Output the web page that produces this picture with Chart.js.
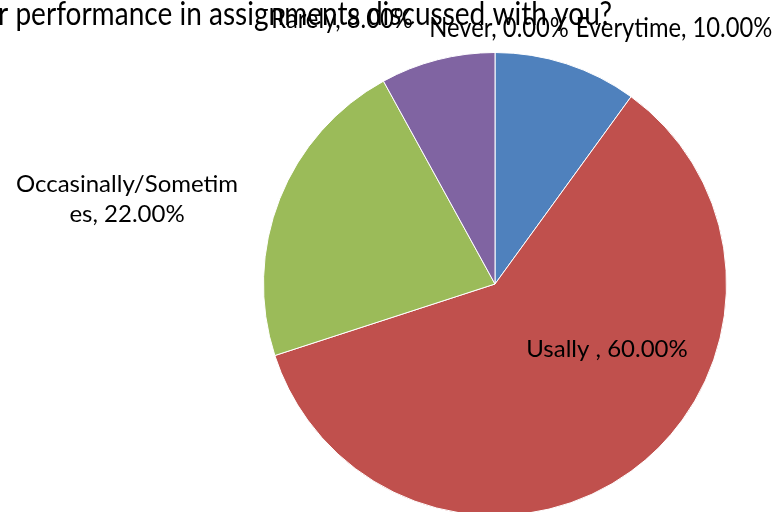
<!DOCTYPE html>
<html>
<head>
<meta charset="utf-8">
<script src="https://cdn.jsdelivr.net/npm/chart.js@4.4.1/dist/chart.umd.min.js"></script>
<style>
  html, body { margin: 0; padding: 0; background: #fff; overflow: hidden; }
  #wrap { width: 780px; height: 520px; position: relative; }
</style>
</head>
<body>
<div id="wrap"><canvas id="graficoPizza" width="780" height="520"></canvas></div>
<script>
const categorias = ['Everytime', 'Usally ', 'Occasinally/Sometimes', 'Rarely', 'Never'];
const valores = [10, 60, 22, 8, 0];
const cores = ['#4F81BD', '#C0504D', '#9BBB59', '#8064A2', '#4BACC6'];
const titulo = 'r performance in assignments discussed with you?';

// onde cada rótulo fica (linhas de texto, posição, fonte)
const rotulos = [
    { linhas: ['Everytime, 10.00%'], x: 674, y: 37, size: 27, sx: 0.88 },
    { linhas: ['Usally , 60.00%'], x: 607, y: 357, size: 24, sx: 1 },
    { linhas: ['Occasinally/Sometim', 'es, 22.00%'], x: 127, y: 192, size: 24, sx: 1, lh: 30 },
    { linhas: ['Rarely, 8.00%'], x: 342, y: 28, size: 27, sx: 0.88 },
    { linhas: ['Never, 0.00%'], x: 499, y: 37, size: 27, sx: 0.88 }
];

const pluginRotulos = {
    id: 'rotulos',
    afterDraw(chart) {
        const ctx = chart.ctx;
        ctx.save();
        ctx.fillStyle = '#000';
        ctx.textBaseline = 'alphabetic';
        // título cortado à esquerda
        ctx.save();
        ctx.translate(-2, 25);
        ctx.scale(0.85, 1);
        ctx.font = '33px Lato, "Open Sans", sans-serif';
        ctx.textAlign = 'left';
        ctx.fillText(titulo, 0, 0);
        ctx.restore();

        rotulos.forEach(r => {
            ctx.save();
            ctx.font = r.size + 'px Lato, "Open Sans", sans-serif';
            ctx.textAlign = 'center';
            r.linhas.forEach((linha, j) => {
                ctx.save();
                ctx.translate(r.x, r.y + j * (r.lh || 0));
                ctx.scale(r.sx, 1);
                ctx.fillText(linha, 0, 0);
                ctx.restore();
            });
            ctx.restore();
        });
        ctx.restore();
    }
};

new Chart(document.getElementById('graficoPizza'), {
    type: 'pie',
    data: {
        labels: categorias,
        datasets: [{
            data: valores,
            backgroundColor: cores,
            borderColor: '#ffffff',
            borderWidth: 1
        }]
    },
    options: {
        responsive: false,
        animation: false,
        layout: { padding: { left: 263, right: 53, top: 52, bottom: 4 } },
        plugins: {
            legend: { display: false },
            tooltip: { enabled: false }
        }
    },
    plugins: [pluginRotulos]
});
</script>
</body>
</html>
